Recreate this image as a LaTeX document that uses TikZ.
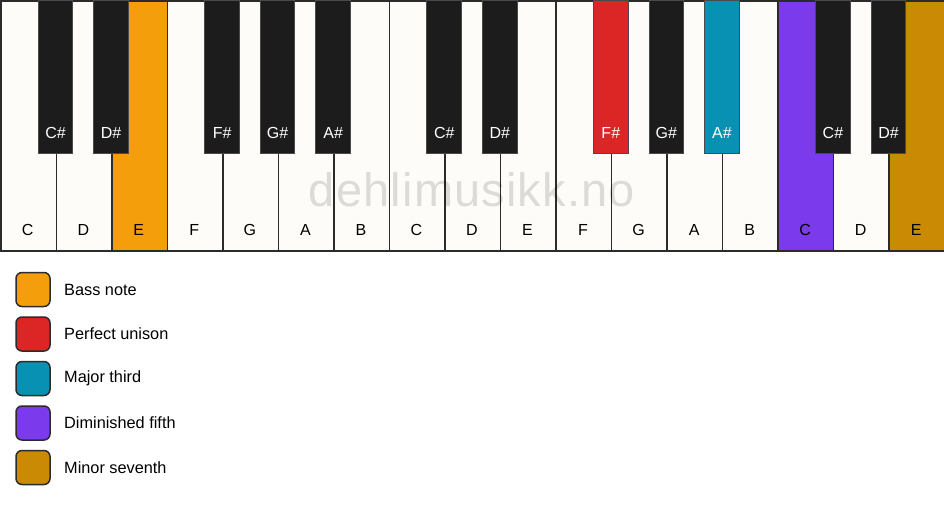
\documentclass[tikz,border=0pt]{standalone}
\usepackage{fontspec}
\setmainfont{Liberation Sans}
\newfontfamily\wmfont[LetterSpace=2.5]{Liberation Sans}
\definecolor{keywhite}{HTML}{FEFCF8}
\definecolor{keyblack}{HTML}{1C1C1C}
\definecolor{keyline}{HTML}{2B2B2B}
\definecolor{blackline}{HTML}{4A4A4A}
\definecolor{cOrange}{HTML}{F59E0B}
\definecolor{cRed}{HTML}{DC2626}
\definecolor{cTeal}{HTML}{0891B2}
\definecolor{cPurple}{HTML}{7C3AED}
\definecolor{cGold}{HTML}{CA8A04}
\begin{document}
\begin{tikzpicture}[x=1pt,y=-1pt,
  whitekey/.style={draw=keyline, line width=1.5pt, minimum width=55.53pt, minimum height=250pt, inner sep=0pt, anchor=north west},
  blackkey/.style={draw=blackline, line width=1pt, minimum width=34.5pt, minimum height=153pt, inner sep=0pt, anchor=north},
  keylabel/.style={inner sep=0pt, font=\fontsize{16}{19}\selectfont},
  legbox/.style={draw=keyline, line width=1.5pt, rounded corners=6pt, minimum size=34pt, inner sep=0pt},
  legtext/.style={inner sep=0pt, anchor=west, font=\fontsize{16.3}{19}\selectfont},
  watermark/.style={inner sep=0pt, text=black, text opacity=0.13, font=\wmfont\fontsize{47}{50}\selectfont}]
\useasboundingbox (0,0) rectangle (944,506);
\fill[white] (0,0) rectangle (944,506);
% white keys
\foreach \n/\c [count=\i from 0] in {C/keywhite,D/keywhite,E/cOrange,F/keywhite,G/keywhite,A/keywhite,B/keywhite,C/keywhite,D/keywhite,E/keywhite,F/keywhite,G/keywhite,A/keywhite,B/keywhite,C/cPurple,D/keywhite,E/cGold}{
  \pgfmathsetmacro\xx{\i*55.5294}
  \pgfmathsetmacro\xc{\xx+27.7647}
  \node[whitekey, fill=\c] (w\i) at (\xx,0) {};
  \node[keylabel] (wl\i) at (\xc,230) {\n};
}
% black keys
\foreach \b/\n/\c [count=\j] in {1/C/keyblack,2/D/keyblack,4/F/keyblack,5/G/keyblack,6/A/keyblack,8/C/keyblack,9/D/keyblack,11/F/cRed,12/G/keyblack,13/A/cTeal,15/C/keyblack,16/D/keyblack}{
  \pgfmathsetmacro\xx{\b*55.5294}
  \node[blackkey, fill=\c] (b\j) at (\xx,0) {};
  \node[keylabel, text=white] (bl\j) at (\xx,133) {\n\#};
}
% watermark
\node[watermark] (wm) at (472,190) {dehlimusikk.no};
% legend
\foreach \c/\t [count=\k] in {cOrange/Bass note,cRed/Perfect unison,cTeal/Major third,cPurple/Diminished fifth,cGold/Minor seventh}{
  \pgfmathsetmacro\yy{289.5+(\k-1)*44.5}
  \node[legbox, fill=\c] (lb\k) at (33,\yy) {};
  \node[legtext] (lt\k) at (64,\yy) {\t};
}
\end{tikzpicture}
\end{document}
